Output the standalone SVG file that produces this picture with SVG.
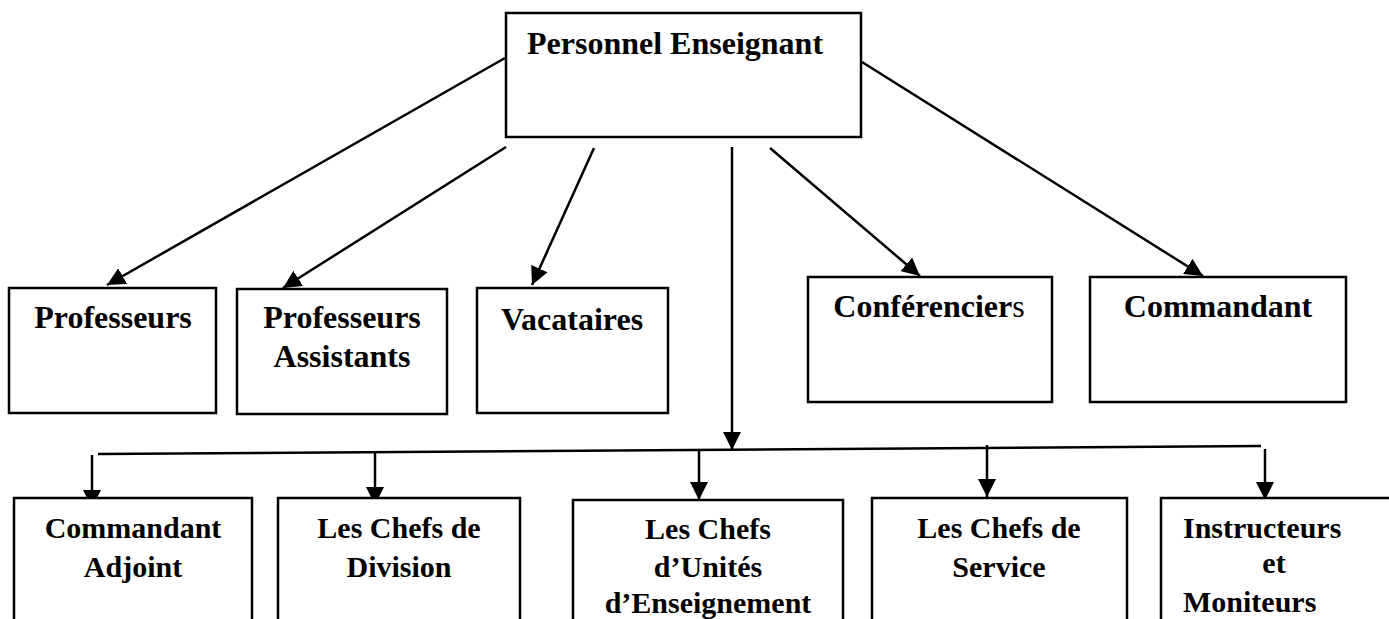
<svg xmlns="http://www.w3.org/2000/svg" width="1389" height="619" viewBox="0 0 1389 619">
<defs>
<marker id="ah" markerUnits="userSpaceOnUse" markerWidth="19" markerHeight="18" refX="18" refY="9" orient="auto">
<path d="M0,0 L18,9 L0,18 z" fill="#000"/>
</marker>
<style>
.box{fill:#fff;stroke:#000;stroke-width:2.5}
.t{font-family:"Liberation Serif","Times New Roman",serif;font-weight:bold;font-size:32px;fill:#000}
.t3{font-family:"Liberation Serif","Times New Roman",serif;font-weight:bold;font-size:30px;fill:#000}
.c{stroke:#000;stroke-width:2.5;fill:none}
.a{stroke:#000;stroke-width:2.5;fill:none;marker-end:url(#ah)}
</style>
</defs>
<rect width="1389" height="619" fill="#fff"/>
<g id="connectors">
<line class="a" x1="505" y1="58" x2="107" y2="285"/>
<line class="a" x1="506" y1="147" x2="283" y2="288"/>
<line class="a" x1="594" y1="148" x2="532" y2="285"/>
<line class="a" x1="732" y1="147" x2="732" y2="450"/>
<line class="a" x1="770" y1="148" x2="920" y2="276"/>
<line class="a" x1="862" y1="62" x2="1203" y2="276"/>
<line class="c" x1="98" y1="454" x2="1261" y2="446"/>
<line class="a" x1="92" y1="455" x2="92" y2="508"/>
<line class="a" x1="375" y1="453" x2="375" y2="505"/>
<line class="a" x1="699" y1="451" x2="699" y2="500"/>
<line class="a" x1="987" y1="445" x2="987" y2="497"/>
<line class="a" x1="1265" y1="449" x2="1265" y2="500"/>
</g>
<g id="personnel">
<rect class="box" x="506" y="13" width="355" height="124"/>
<text class="t" x="527" y="54">Personnel Enseignant</text>
</g>
<g id="professeurs">
<rect class="box" x="9" y="288" width="207" height="125"/>
<text class="t" x="113" y="328" text-anchor="middle">Professeurs</text>
</g>
<g id="prof-assistants">
<rect class="box" x="237" y="289" width="210" height="125"/>
<text class="t" x="342" y="328" text-anchor="middle">Professeurs</text>
<text class="t" x="342" y="367" text-anchor="middle">Assistants</text>
</g>
<g id="vacataires">
<rect class="box" x="477" y="288" width="191" height="125"/>
<text class="t" x="572" y="330" text-anchor="middle">Vacataires</text>
</g>
<g id="conferenciers">
<rect class="box" x="808" y="277" width="244" height="125"/>
<text class="t" x="929" y="317" text-anchor="middle">Conférencier<tspan font-weight="normal">s</tspan></text>
</g>
<g id="commandant">
<rect class="box" x="1090" y="277" width="256" height="125"/>
<text class="t" x="1218" y="317" text-anchor="middle">Commandant</text>
</g>
<g id="commandant-adjoint">
<rect class="box" x="14" y="498" width="238" height="150"/>
<text class="t3" x="133" y="538" text-anchor="middle">Commandant</text>
<text class="t3" x="133" y="577" text-anchor="middle">Adjoint</text>
</g>
<g id="chefs-division">
<rect class="box" x="278" y="498" width="242" height="150"/>
<text class="t3" x="399" y="538" text-anchor="middle">Les Chefs de</text>
<text class="t3" x="399" y="577" text-anchor="middle">Division</text>
</g>
<g id="chefs-unites">
<rect class="box" x="573" y="500" width="270" height="150"/>
<text class="t3" x="708" y="539" text-anchor="middle">Les Chefs</text>
<text class="t3" x="708" y="577" text-anchor="middle">d’Unités</text>
<text class="t3" x="708" y="613" text-anchor="middle">d’Enseignement</text>
</g>
<g id="chefs-service">
<rect class="box" x="872" y="498" width="255" height="150"/>
<text class="t3" x="999" y="538" text-anchor="middle">Les Chefs de</text>
<text class="t3" x="999" y="577" text-anchor="middle">Service</text>
</g>
<g id="instructeurs">
<rect class="box" x="1161" y="498" width="240" height="150"/>
<text class="t3" x="1183" y="538">Instructeurs</text>
<text class="t3" x="1274" y="573" text-anchor="middle">et</text>
<text class="t3" x="1183" y="612">Moniteurs</text>
</g>
</svg>
